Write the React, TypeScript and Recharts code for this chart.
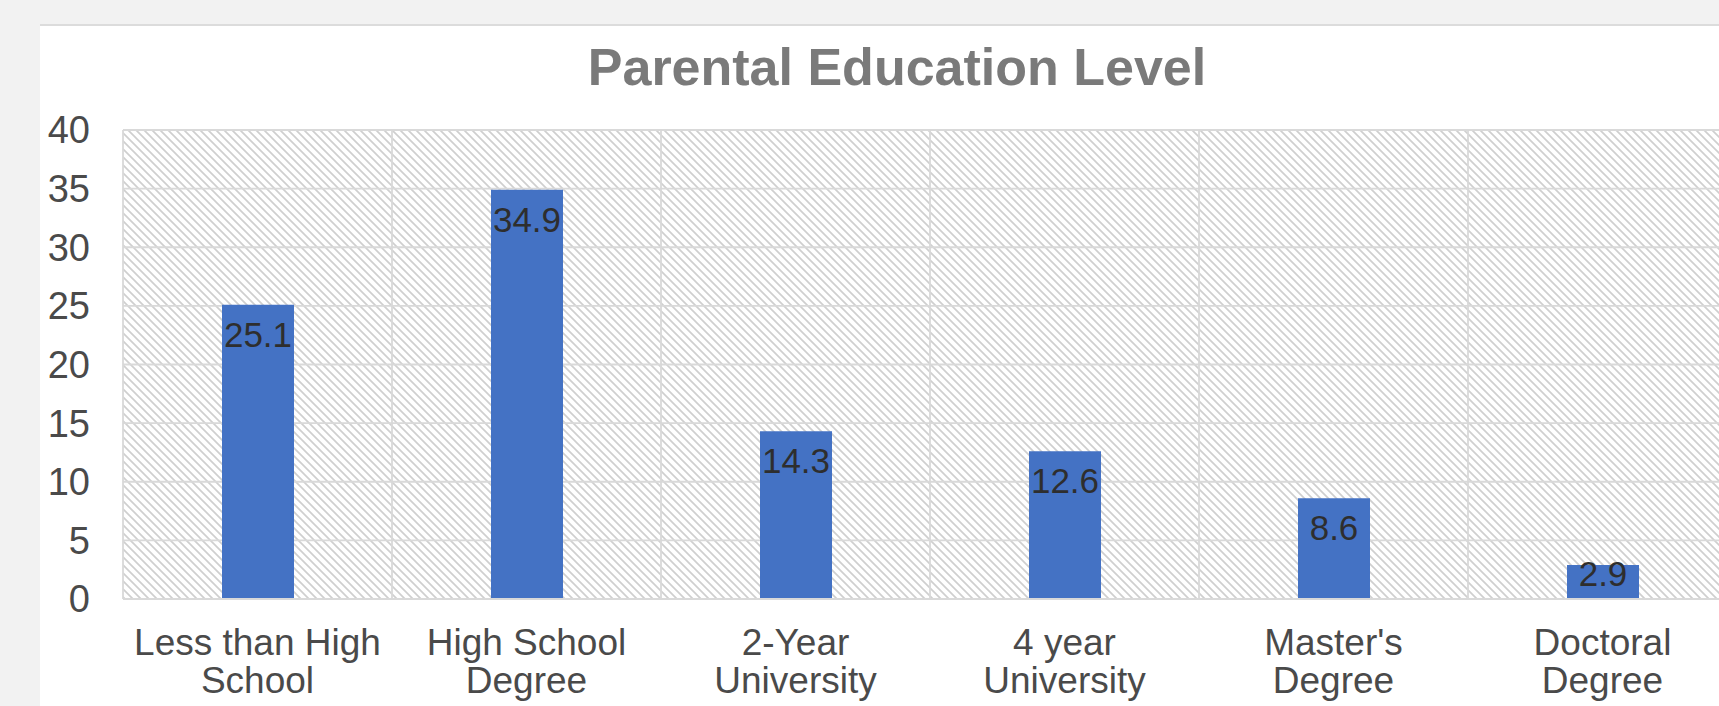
import React from "react";
import { BarChart, Bar, XAxis, YAxis, CartesianGrid, LabelList } from "recharts";

const categories = [
  "Less than High\nSchool",
  "High School\nDegree",
  "2-Year\nUniversity",
  "4 year\nUniversity",
  "Master's\nDegree",
  "Doctoral\nDegree",
];
const percentages = [25.1, 34.9, 14.3, 12.6, 8.6, 2.9];
const yTicks = [0, 5, 10, 15, 20, 25, 30, 35, 40];
const chartTitle = "Parental Education Level";

const data = categories.map((c, i) => ({ category: c, value: percentages[i] }));

const FONT = '"Liberation Sans", Arial, Helvetica, sans-serif';

const XTick = (props: any) => {
  const { x, y, payload } = props;
  const lines = String(payload.value).split("\n");
  return (
    <text textAnchor="middle" fontFamily={FONT} fontSize={37} fill="#4a4a4a">
      {lines.map((ln: string, i: number) => (
        <tspan key={i} x={x} y={y + 56 + i * 38}>
          {ln}
        </tspan>
      ))}
    </text>
  );
};

const BarLabel = (props: any) => {
  const { x, y, width, height, value } = props;
  const off = Math.min(42, height - 13);
  return (
    <text
      x={x + width / 2}
      y={y + off}
      textAnchor="middle"
      fontFamily={FONT}
      fontSize={35}
      fill="#2e2e2e"
    >
      {value}
    </text>
  );
};

export default function App() {
  const W = 1714;
  const H = 680;
  return (
    <div style={{ position: "relative", width: 1719, height: 706, overflow: "hidden", background: "#f2f2f2" }}>
      <style>{"body{margin:0;background:#f2f2f2;overflow:hidden}"}</style>
      <svg width={0} height={0} style={{ position: "absolute" }}>
        <defs>
          <pattern id="hatch" patternUnits="userSpaceOnUse" width={8} height={8}>
            <rect width={8} height={8} fill="#ffffff" />
            <path d="M-2,-2 L10,10 M-2,6 L2,10 M6,-2 L10,2" stroke="#cfcfcf" strokeWidth={1.7} />
          </pattern>
        </defs>
      </svg>
      <div
        style={{
          position: "absolute",
          left: 40,
          top: 24,
          width: W,
          height: H + 10,
          background: "#ffffff",
          borderTop: "2px solid #dcdcdc",
        }}
      >
        <BarChart
          width={W}
          height={H}
          data={data}
          margin={{ top: 104, right: 17, bottom: 0, left: 0 }}
        >
          <CartesianGrid
            stroke="#d9d9d9"
            strokeWidth={1.8}
            fill="url(#hatch)"
            fillOpacity={1}
            verticalCoordinatesGenerator={(p: any) => {
              const off = p.offset;
              return categories.map((_, i) => off.left + (i * off.width) / categories.length).concat([off.left + off.width]);
            }}
          />
          <XAxis
            dataKey="category"
            height={107}
            tickLine={false}
            tickSize={0}
            tickMargin={0}
            axisLine={{ stroke: "#d9d9d9", strokeWidth: 2 }}
            tick={<XTick />}
            interval={0}
          />
          <YAxis
            width={83}
            domain={[0, 40]}
            ticks={yTicks}
            axisLine={false}
            tickLine={false}
            tickSize={0}
            tickMargin={33}
            tick={{ fontFamily: FONT, fontSize: 38, fill: "#4a4a4a" }}
            interval={0}
          />
          <Bar dataKey="value" fill="#4472C4" barSize={72} isAnimationActive={false}>
            <LabelList dataKey="value" content={<BarLabel />} />
          </Bar>
        </BarChart>
        <svg
          width={W}
          height={100}
          style={{ position: "absolute", left: 0, top: 0, pointerEvents: "none" }}
        >
          <text
            x={857}
            y={59}
            textAnchor="middle"
            fontFamily={FONT}
            fontWeight="bold"
            fontSize={52}
            fill="#7a7a7a"
          >
            {chartTitle}
          </text>
        </svg>
      </div>
    </div>
  );
}
